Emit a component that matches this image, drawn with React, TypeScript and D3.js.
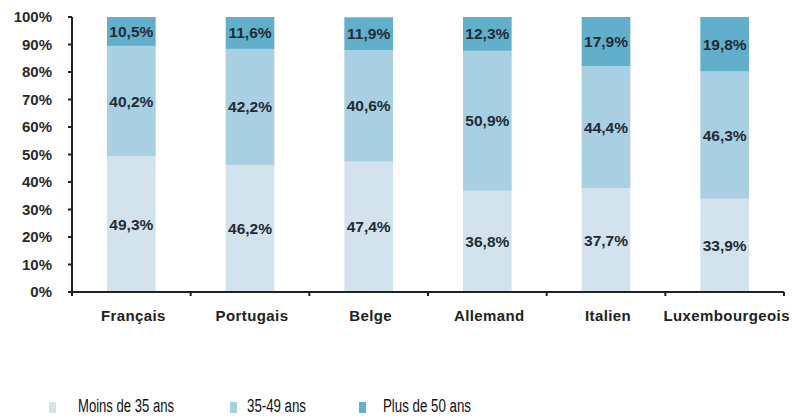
import React from "react";
import * as d3 from "d3";

const categories = ["Français", "Portugais", "Belge", "Allemand", "Italien", "Luxembourgeois"];
const seriesNames = ["Moins de 35 ans", "35-49 ans", "Plus de 50 ans"];
const under35 = [49.3, 46.2, 47.4, 36.8, 37.7, 33.9];
const mid3549 = [40.2, 42.2, 40.6, 50.9, 44.4, 46.3];
const over50 = [10.5, 11.6, 11.9, 12.3, 17.9, 19.8];
const yTicks = [0, 10, 20, 30, 40, 50, 60, 70, 80, 90, 100];
const colors = ["#d3e3ee", "#a9cfe2", "#62afcc"];

const fmt = (v: number) => v.toFixed(1).replace(".", ",") + "%";

export default function App() {
  const W = 792, H = 418;
  const left = 72, right = 784, top = 17, bottom = 292;
  const x = d3.scaleBand<string>().domain(categories).range([left, right]).paddingInner(0.59).paddingOuter(0.295);
  const y = d3.scaleLinear().domain([0, 100]).range([bottom, top]);
  const rows = categories.map((c, i) => ({ cat: c, s0: under35[i], s1: mid3549[i], s2: over50[i] }));
  const stacked = d3.stack<any>().keys(["s0", "s1", "s2"])(rows);
  const step = (right - left) / categories.length;
  const font = "Arial, 'Liberation Sans', sans-serif";
  const legendX = [49, 230, 359];
  const legendTextX = [78, 247, 383];
  const legendLen = [96, 59, 88];
  return (
    <svg width={W} height={H} style={{ position: "absolute", left: 0, top: 0, background: "#fff" }} fontFamily={font}>
      {stacked.map((layer, li) => (
        <g key={li}>
          {layer.map((d, i) => {
            const x0 = x(categories[i])!;
            const y0 = y(d[1]), y1 = y(d[0]);
            return (
              <g key={i}>
                <rect x={x0} y={y0} width={x.bandwidth()} height={y1 - y0} fill={colors[li]} />
                <text x={x0 + x.bandwidth() / 2} y={(y0 + y1) / 2} dy="0.35em" textAnchor="middle" fontSize={15.5} fontWeight="bold" fill="#222b33">
                  {fmt(d[1] - d[0])}
                </text>
              </g>
            );
          })}
        </g>
      ))}
      {/* y axis */}
      <line x1={left} x2={left} y1={top} y2={bottom} stroke="#222" strokeWidth={2} />
      {yTicks.map((t) => (
        <g key={t}>
          <line x1={left - 4} x2={left} y1={y(t)} y2={y(t)} stroke="#222" strokeWidth={2} />
          <text x={52} y={y(t)} dy="0.35em" textAnchor="end" fontSize={15} fontWeight="bold" fill="#2a2a2a">{t}%</text>
        </g>
      ))}
      {/* x axis */}
      <line x1={left} x2={right} y1={bottom} y2={bottom} stroke="#222" strokeWidth={2} />
      {d3.range(categories.length + 1).map((i) => (
        <line key={i} x1={left + i * step} x2={left + i * step} y1={bottom} y2={bottom + 4} stroke="#222" strokeWidth={2} />
      ))}
      {categories.map((c) => (
        <text key={c} x={x(c)! + x.bandwidth() / 2 + 2} y={316} dy="0.35em" textAnchor="middle" fontSize={15} fontWeight="bold" letterSpacing={0.4} fill="#222">{c}</text>
      ))}
      {/* legend */}
      {seriesNames.map((s, i) => (
        <g key={s}>
          <rect x={legendX[i]} y={402} width={7} height={11} fill={colors[i]} />
          <text x={legendTextX[i]} y={412} fontSize={18} textLength={legendLen[i]} lengthAdjust="spacingAndGlyphs" fill="#111">{s}</text>
        </g>
      ))}
    </svg>
  );
}
